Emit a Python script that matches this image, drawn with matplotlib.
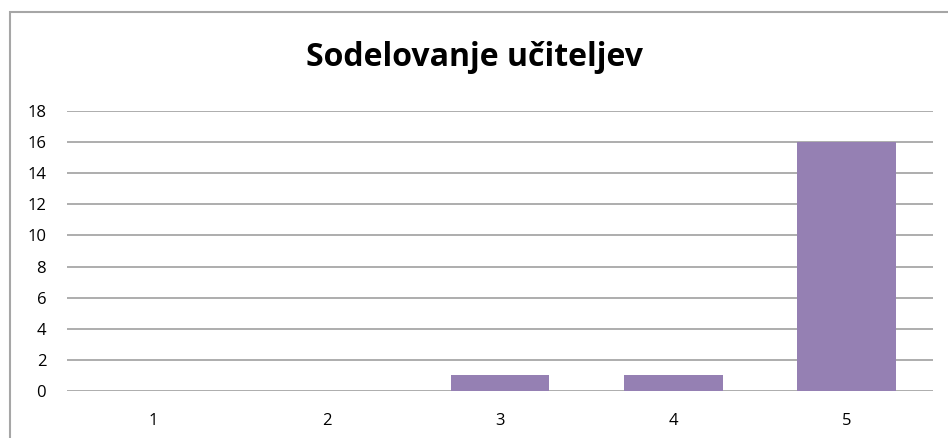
import matplotlib.pyplot as plt
from matplotlib.patches import Rectangle

categories = ["1", "2", "3", "4", "5"]
values = [0, 0, 1, 1, 16]
yticks = [0, 2, 4, 6, 8, 10, 12, 14, 16, 18]

plt.rcParams['font.family'] = ['Open Sans', 'DejaVu Sans']

fig = plt.figure(figsize=(9.48, 4.38), dpi=100)
ax = fig.add_axes([67/948, 1-391/438, (933-67)/948, (391-111)/438])

ax.bar(range(len(categories)), values, width=0.57, color="#9580B3", zorder=3)
ax.set_xlim(-0.5, len(categories)-0.5)
ax.set_ylim(0, 18)
ax.set_yticks(yticks)
ax.set_xticks(range(len(categories)))
ax.set_xticklabels(categories)
ax.yaxis.grid(True, color="#A0A0A0", linewidth=1.2, zorder=0)
for s in ax.spines.values():
    s.set_visible(False)
ax.tick_params(axis="both", length=0, labelsize=12, colors="#000000")
ax.tick_params(axis="y", pad=15)
ax.tick_params(axis="x", pad=16)

fig.text(0.5, 1-58/438, "Sodelovanje učiteljev", ha="center", va="center",
         fontsize=23, fontweight="bold")

# chart frame (right and bottom edges are cut off in the original)
fig.patches.append(Rectangle((9.5/948, -0.1), 1.2, 0.1+1-11.5/438,
                             transform=fig.transFigure, fill=False,
                             edgecolor="#A6A6A6", linewidth=1.5))

fig.savefig("out.png", dpi=100)
